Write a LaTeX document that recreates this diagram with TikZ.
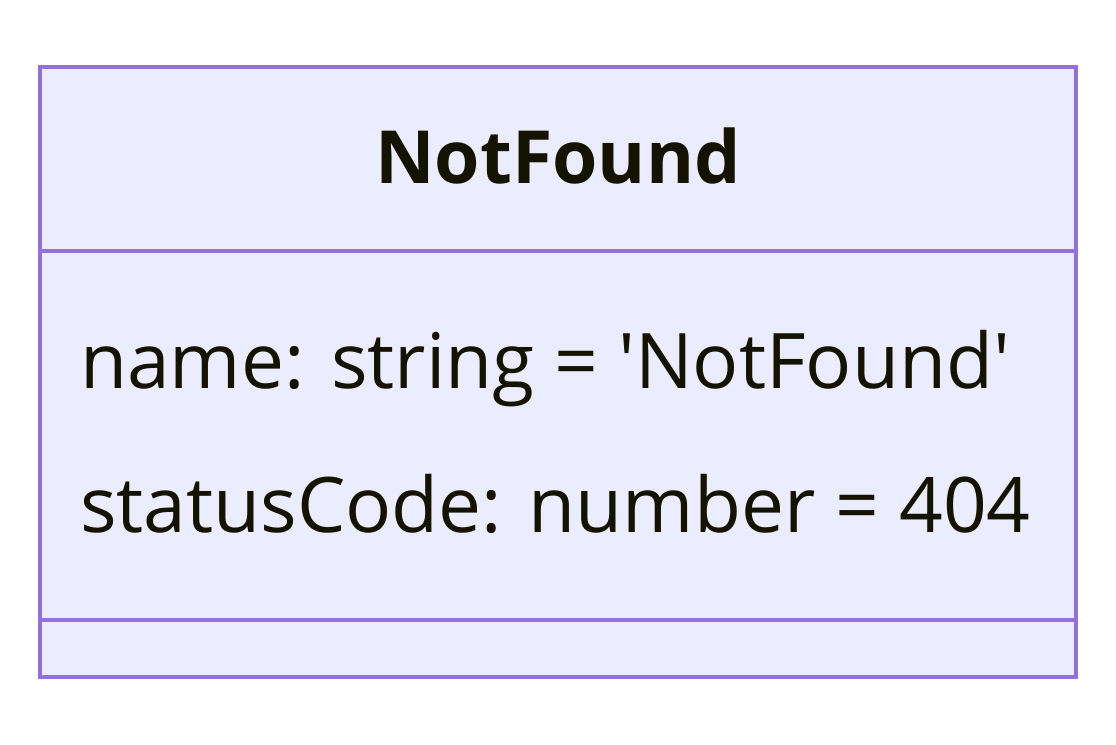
\documentclass[tikz,border=0pt]{standalone}
\usepackage{fontspec}
\setmainfont{Open Sans}
\usetikzlibrary{positioning}
\definecolor{clsfill}{HTML}{ECECFF}
\definecolor{clsborder}{HTML}{9370DB}
\definecolor{clstext}{HTML}{131300}

\begin{document}
\begin{tikzpicture}[
  x=0.75pt, y=-0.75pt,
  compart/.style={draw=clsborder, fill=clsfill, line width=3.2pt,
                  minimum width=777pt, inner sep=0pt},
  attr/.style={font=\fontsize{57.5}{70}\selectfont, text=clstext, anchor=base west, inner sep=0pt},
]

\useasboundingbox (0,0) rectangle (1116,744);

% Class compartments
\node[compart, minimum height=138pt] (head) at (558,159) {};
\node[compart, minimum height=276.75pt] (attrs) at (558,435.5) {};
\node[compart, minimum height=42.75pt] (meths) at (558,648.5) {};

% Class name
\node[font=\fontsize{55}{66}\selectfont\bfseries, text=clstext, anchor=base, inner sep=0pt]
  (title) at (558,183) {NotFound};

% Attributes
\node[attr] (aname) at (80,388) {name: string = \textquotesingle NotFound\textquotesingle};
\node[attr] (acode) at (80,532) {statusCode: number = 404};

\end{tikzpicture}
\end{document}
